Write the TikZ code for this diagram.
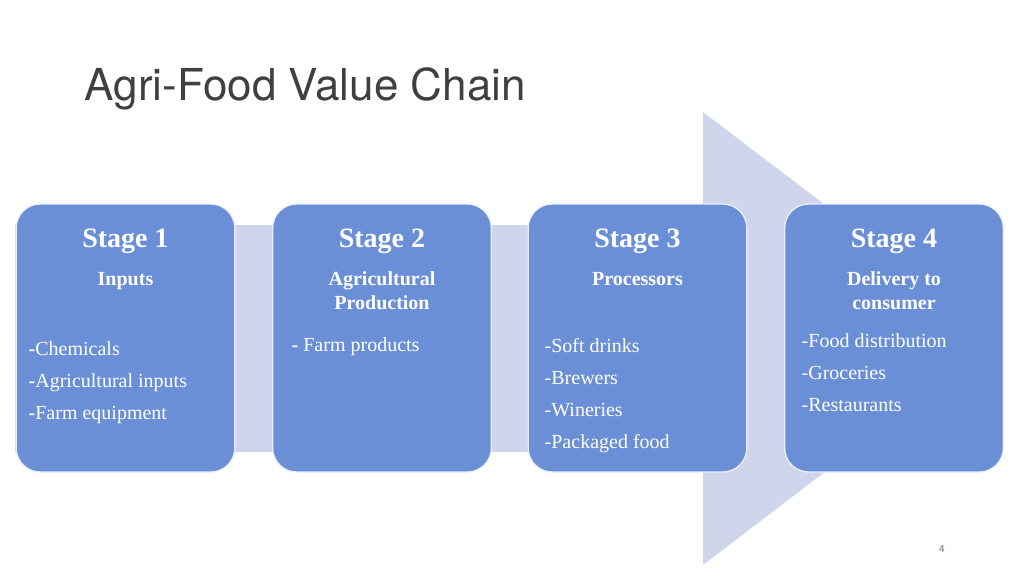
\documentclass[tikz,border=0pt]{standalone}
\usepackage{fontspec}
\setmainfont{Liberation Serif}
\newfontfamily\titlefont{TeX Gyre Heros}
\definecolor{bandcol}{HTML}{CFD5EA}
\definecolor{boxcol}{HTML}{6A8FD6}
\tikzset{
  stagebox/.style={draw=white!85!boxcol, line width=1pt, fill=boxcol, rounded corners=18pt,
    minimum width=164pt, minimum height=201pt},
  stagehead/.style={text=white, font=\bfseries\fontsize{21}{24}\selectfont},
  stagesub/.style={text=white, font=\bfseries\fontsize{15}{18}\selectfont, align=center},
  stageitem/.style={text=white, font=\fontsize{15}{24}\selectfont, align=left}
}
\begin{document}
\begin{tikzpicture}[x=0.75pt, y=-0.75pt]
\useasboundingbox (0,0) rectangle (1024,576);

% big arrow behind the stages
\fill [bandcol] (15,225) -- (703,225) -- (703,112) -- (1000,338) -- (703,565) -- (703,452) -- (15,452) -- cycle;

\node [anchor=base west, font=\titlefont\fontsize{33}{36}\selectfont, text=black!75] (title) at (80,100) {Agri-Food Value Chain};

\foreach \x [count=\i] in {125.5,382,637.5,894}
  \node [stagebox] (stage-\i) at (\x,338) {};

\foreach \i in {1,...,4}
  \node [stagehead, anchor=base] (head-\i) at ([yshift=-33pt]stage-\i.north) {Stage \i};

\node [stagesub, anchor=north] (sub-1) at ([yshift=-48pt]stage-1.north) {Inputs};
\node [stagesub, anchor=north] (sub-2) at ([yshift=-48pt]stage-2.north) {Agricultural\\Production};
\node [stagesub, anchor=north] (sub-3) at ([yshift=-48pt]stage-3.north) {Processors};
\node [stagesub, anchor=north] (sub-4) at ([yshift=-48pt]stage-4.north) {Delivery to\\consumer};

\node [stageitem, anchor=north west] (items-1) at (24,337) {\textbf{-}Chemicals\\\textbf{-}Agricultural inputs\\\textbf{-}Farm equipment};
\node [stageitem, anchor=north west] (items-2) at (287,333) {\textbf{-} Farm products};
\node [stageitem, anchor=north west] (items-3) at (540,334) {-Soft drinks\\-Brewers\\-Wineries\\-Packaged food};
\node [stageitem, anchor=north west] (items-4) at (797,329) {-Food distribution\\-Groceries\\-Restaurants};

\node [text=black!55, font=\sffamily\fontsize{8}{9}\selectfont] (page) at (942,549) {4};
\end{tikzpicture}
\end{document}
